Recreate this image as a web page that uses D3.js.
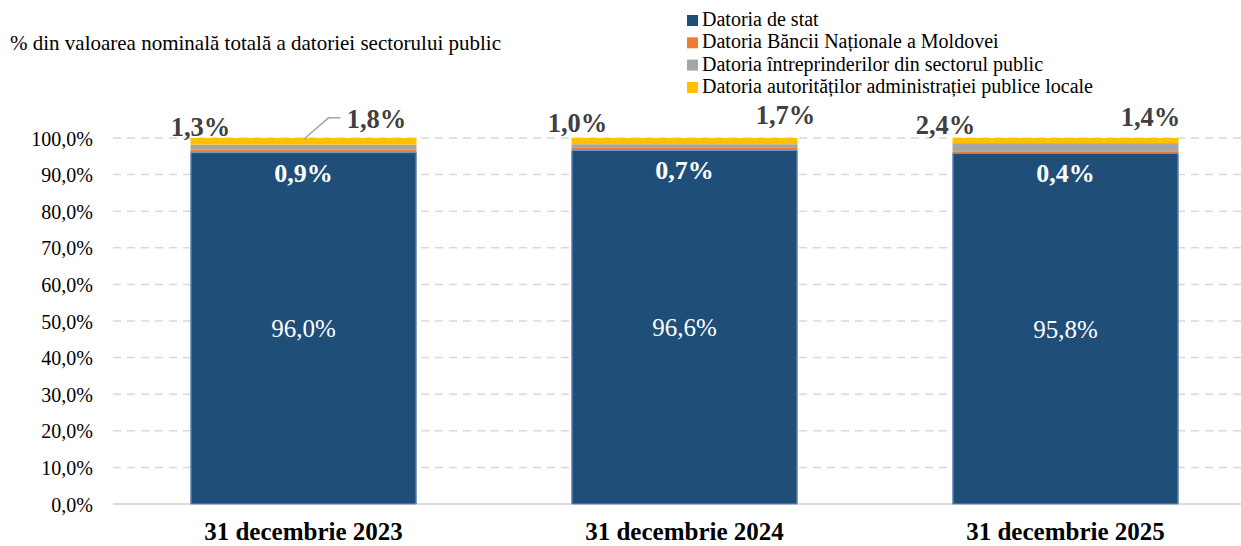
<!DOCTYPE html>
<html>
<head>
<meta charset="utf-8">
<script src="https://cdn.jsdelivr.net/npm/d3@7"></script>
<style>
  body { margin: 0; background: #fff; }
  svg text { font-family: "Liberation Serif", "Times New Roman", serif; }
</style>
</head>
<body>
<svg id="chart" width="1241" height="546"></svg>
<script>
const categories = ["31 decembrie 2023", "31 decembrie 2024", "31 decembrie 2025"];
const seriesNames = [
  "Datoria de stat",
  "Datoria Băncii Naționale a Moldovei",
  "Datoria întreprinderilor din sectorul public",
  "Datoria autorităților administrației publice locale"
];
const stat = [96.0, 96.6, 95.8];
const bnm = [0.9, 0.7, 0.4];
const intreprinderi = [1.3, 1.0, 2.4];
const locale = [1.8, 1.7, 1.4];
const yTicks = [0, 10, 20, 30, 40, 50, 60, 70, 80, 90, 100];
const colors = ["#1F4E79", "#ED7D31", "#A5A5A5", "#FFC000"];

const svg = d3.select("#chart");

const x = d3.scaleBand().domain(categories).range([113, 1256]).paddingInner(0.407).paddingOuter(0.2035);
const y = d3.scaleLinear().domain([0, 100]).range([504, 138]);

const fmt = v => v.toFixed(1).replace(".", ",") + "%";

// gridlines
svg.append("g").selectAll("line").data(yTicks).enter().append("line")
  .attr("x1", 113).attr("x2", 1241)
  .attr("y1", d => y(d)).attr("y2", d => y(d))
  .attr("stroke", d => d === 0 ? "#d0d0d0" : "#d9d9d9")
  .attr("stroke-width", 1.5)
  .attr("stroke-dasharray", d => d === 0 ? null : "8,6");

// y axis labels
const yAxis = d3.axisLeft(y).tickValues(yTicks).tickSize(0).tickPadding(0).tickFormat(fmt);
const yg = svg.append("g").attr("transform", "translate(93,0)").call(yAxis);
yg.select(".domain").remove();
yg.attr("font-family", null).attr("font-size", null);
yg.selectAll("text").attr("font-size", 20).attr("fill", "#000").attr("dy", "0.35em");

// stacked data
const rows = categories.map((c, i) => ({cat: c, s0: stat[i], s1: bnm[i], s2: intreprinderi[i], s3: locale[i]}));
const layers = d3.stack().keys(["s0", "s1", "s2", "s3"])(rows);

svg.append("g").selectAll("g").data(layers).enter().append("g")
  .attr("fill", (d, i) => colors[i])
  .selectAll("rect").data(d => d).enter().append("rect")
  .attr("x", d => x(d.data.cat))
  .attr("width", x.bandwidth())
  .attr("y", d => y(d[1]))
  .attr("height", d => y(d[0]) - y(d[1]));

// bar outline for the main segment
svg.append("g").selectAll("rect").data(layers[0]).enter().append("rect")
  .attr("x", d => x(d.data.cat) + 0.5)
  .attr("width", x.bandwidth() - 1)
  .attr("y", d => y(d[1]))
  .attr("height", d => y(d[0]) - y(d[1]))
  .attr("fill", "none")
  .attr("stroke", "#6f8fc4")
  .attr("stroke-width", 1);

// stat labels
svg.append("g").selectAll("text").data(categories).enter().append("text")
  .attr("x", d => x(d) + x.bandwidth() / 2)
  .attr("y", (d, i) => y(stat[i] / 2) + 9)
  .attr("text-anchor", "middle")
  .attr("font-size", 25).attr("fill", "#fff")
  .text((d, i) => fmt(stat[i]));

// BNM labels
svg.append("g").selectAll("text").data(categories).enter().append("text")
  .attr("x", d => x(d) + x.bandwidth() / 2)
  .attr("y", (d, i) => y(stat[i]) + 29)
  .attr("text-anchor", "middle")
  .attr("font-size", 26).attr("font-weight", "bold").attr("fill", "#fff")
  .text((d, i) => fmt(bnm[i]));

// grey labels (left of bar top)
const greyDx = [10, 6, -7];
const greyDy = [-2, -6, -4];
svg.append("g").selectAll("text").data(categories).enter().append("text")
  .attr("x", (d, i) => x(d) + greyDx[i])
  .attr("y", (d, i) => y(100) + greyDy[i])
  .attr("text-anchor", "middle")
  .attr("font-size", 26.5).attr("font-weight", "bold").attr("fill", "#404040")
  .text((d, i) => fmt(intreprinderi[i]));

// yellow labels (right of bar top)
const yelDx = [-40, -12, -28];
const yelDy = [-10, -14, -12];
svg.append("g").selectAll("text").data(categories).enter().append("text")
  .attr("x", (d, i) => x(d) + x.bandwidth() + yelDx[i])
  .attr("y", (d, i) => y(100) + yelDy[i])
  .attr("text-anchor", "middle")
  .attr("font-size", 26.5).attr("font-weight", "bold").attr("fill", "#404040")
  .text((d, i) => fmt(locale[i]));

// leader line for first category
const c0 = x(categories[0]) + x.bandwidth() / 2;
svg.append("polyline")
  .attr("points", `${c0},${y(99.6)} ${c0 + 25},${y(105.5)} ${c0 + 37},${y(105.5)}`)
  .attr("fill", "none").attr("stroke", "#a6a6a6").attr("stroke-width", 1.5);

// x labels
svg.append("g").selectAll("text").data(categories).enter().append("text")
  .attr("x", d => x(d) + x.bandwidth() / 2)
  .attr("y", 540)
  .attr("text-anchor", "middle")
  .attr("font-size", 25).attr("font-weight", "bold").attr("fill", "#000")
  .text(d => d);

// title
svg.append("text").attr("x", 10).attr("y", 50)
  .attr("font-size", 21).attr("fill", "#000")
  .text("% din valoarea nominală totală a datoriei sectorului public");

// legend
const lg = svg.append("g").attr("transform", "translate(687,0)");
const legY = [26, 48.3, 70.6, 93];
seriesNames.forEach((n, i) => {
  lg.append("rect").attr("x", 0).attr("y", legY[i] - 11).attr("width", 11).attr("height", 11).attr("fill", colors[i]);
  lg.append("text").attr("x", 15).attr("y", legY[i]).attr("font-size", 20).attr("fill", "#000").text(n);
});
</script>
</body>
</html>
